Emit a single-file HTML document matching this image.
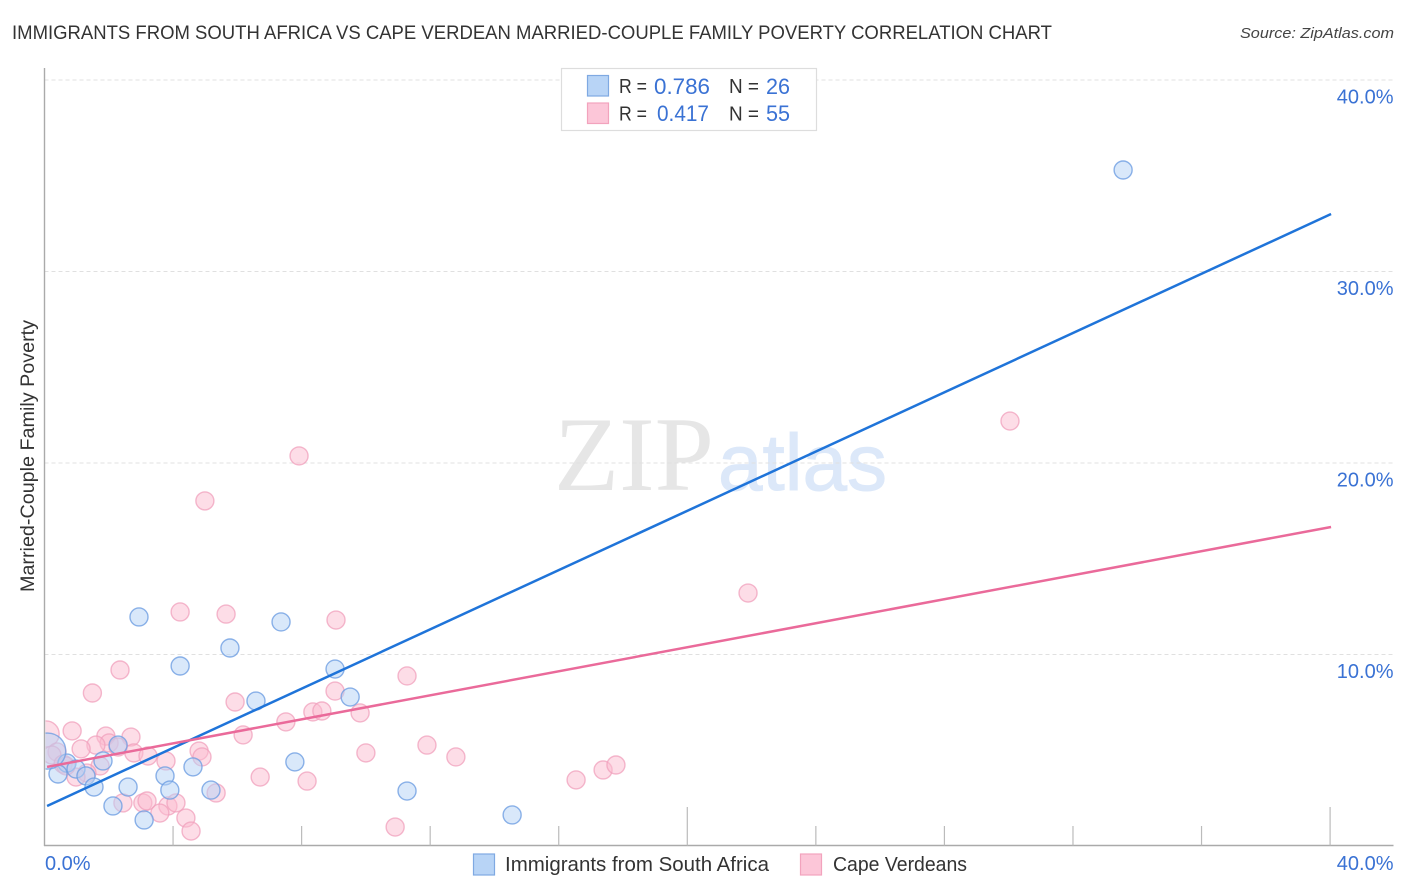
<!DOCTYPE html>
<html lang="en">
<head>
<meta charset="utf-8">
<title>Immigrants from South Africa vs Cape Verdean Married-Couple Family Poverty Correlation Chart</title>
<style>
html,body{margin:0;padding:0;background:#fff;}
svg{display:block;font-family:"Liberation Sans",sans-serif;}
</style>
</head>
<body>
<svg id="chart" xmlns="http://www.w3.org/2000/svg" width="1406" height="892" viewBox="0 0 1406 892">
  <rect x="0" y="0" width="1406" height="892" fill="#ffffff"/>
  <defs><clipPath id="plot-clip"><rect x="45.5" y="60" width="1350" height="785"/></clipPath></defs>
  <text x="12" y="39" font-size="19.5" fill="#333333" textLength="1040" lengthAdjust="spacingAndGlyphs">IMMIGRANTS FROM SOUTH AFRICA VS CAPE VERDEAN MARRIED-COUPLE FAMILY POVERTY CORRELATION CHART</text>
  <text x="1394" y="38" font-size="15" font-style="italic" fill="#444" text-anchor="end" textLength="154" lengthAdjust="spacingAndGlyphs">Source: ZipAtlas.com</text>
  <g>
    <text x="554" y="490" font-family="'Liberation Serif',serif" font-size="106" fill="#e6e6e6" textLength="160" lengthAdjust="spacingAndGlyphs">ZIP</text>
    <text x="718" y="490" font-size="80" fill="#dce8f9" stroke="#dce8f9" stroke-width="1" textLength="169" lengthAdjust="spacingAndGlyphs">atlas</text>
  </g>
  <g id="grid"></g>
  <g id="axes"></g>
  <g id="marks" clip-path="url(#plot-clip)"></g>
  <g id="trends"></g>
  <text transform="translate(34,456) rotate(-90)" font-size="19" fill="#333333" text-anchor="middle" textLength="272" lengthAdjust="spacingAndGlyphs">Married-Couple Family Poverty</text>

  <g>
    <rect x="561.5" y="68.5" width="255" height="62" fill="#ffffff" stroke="#dddddd" stroke-width="1.2"/>
    <rect x="587.5" y="75.5" width="21" height="20.5" fill="#b8d4f6" stroke="#7fa9e2" stroke-width="1.2"/>
    <rect x="587.5" y="103" width="21" height="20.5" fill="#fcc6d8" stroke="#f2a3bd" stroke-width="1.2"/>
    <text x="619" y="93" font-size="20" fill="#333333" textLength="28" lengthAdjust="spacingAndGlyphs">R =</text>
    <text x="654" y="94" font-size="22" fill="#3a72d4" textLength="56" lengthAdjust="spacingAndGlyphs">0.786</text>
    <text x="729" y="93" font-size="20" fill="#333333" textLength="30" lengthAdjust="spacingAndGlyphs">N =</text>
    <text x="766" y="94" font-size="22" fill="#3a72d4" textLength="24" lengthAdjust="spacingAndGlyphs">26</text>
    <text x="619" y="120.5" font-size="20" fill="#333333" textLength="28" lengthAdjust="spacingAndGlyphs">R =</text>
    <text x="657" y="121" font-size="22" fill="#3a72d4" textLength="52" lengthAdjust="spacingAndGlyphs">0.417</text>
    <text x="729" y="120.5" font-size="20" fill="#333333" textLength="30" lengthAdjust="spacingAndGlyphs">N =</text>
    <text x="766" y="121" font-size="22" fill="#3a72d4" textLength="24" lengthAdjust="spacingAndGlyphs">55</text>
  </g>

  <g>
    <rect x="473.5" y="854" width="21" height="21" fill="#b8d4f6" stroke="#7fa9e2" stroke-width="1.2"/>
    <text x="505" y="871" font-size="20" fill="#333333" textLength="264" lengthAdjust="spacingAndGlyphs">Immigrants from South Africa</text>
    <rect x="800.5" y="854" width="21" height="21" fill="#fcc6d8" stroke="#f2a3bd" stroke-width="1.2"/>
    <text x="833" y="871" font-size="20" fill="#333333" textLength="134" lengthAdjust="spacingAndGlyphs">Cape Verdeans</text>
  </g>
</svg>
<script>
const yTicks = [10, 20, 30, 40];
const yTickLabels = ["10.0%", "20.0%", "30.0%", "40.0%"];
const xTicks = [4, 8, 12, 16, 20, 24, 28, 32, 36, 40];
const xMajorTicks = [40];
const xMidTicks = [20];
const xEndTicks = [0, 40];
const xEndLabels = ["0.0%", "40.0%"];

const southAfricaX = [33.56,2.94,7.36,5.77,4.22,9.04,9.51,6.58,7.79,4.62,3.75,2.29,1.82,0.70,0.98,0.42,1.29,1.54,2.60,3.90,5.18,11.28,2.13,3.10,14.55,0.10];
const southAfricaY = [35.30,11.96,11.70,10.34,9.40,9.24,7.78,7.57,4.39,4.13,3.66,5.27,4.44,4.33,4.02,3.76,3.66,3.08,3.08,2.92,2.92,2.87,2.09,1.36,1.62,4.96];
const southAfricaWeight = [1,1,1,1,1,1,1,1,1,1,1,1,1,1,1,1,1,1,1,1,1,1,1,1,1,4];

const capeVerdeanX = [2.35,1.49,5.93,0.86,0.05,1.91,2.69,2.01,1.60,1.14,2.29,2.78,3.22,3.78,4.81,4.90,6.18,7.51,0.39,0.23,1.73,0.58,1.32,0.98,6.71,5.34,2.44,3.06,3.19,3.84,4.09,3.59,4.40,4.56,4.99,7.92,30.04,21.89,4.22,5.65,9.07,11.28,9.04,8.35,8.63,9.82,10.00,11.90,12.80,8.17,10.91,16.54,17.38,17.78,0.67];
const capeVerdeanY = [9.19,7.99,7.52,6.01,5.85,5.74,5.69,5.38,5.27,5.07,5.17,4.86,4.70,4.44,4.96,4.65,5.80,6.48,4.91,4.75,4.18,4.28,3.81,3.60,3.60,2.77,2.25,2.25,2.35,2.09,2.25,1.72,1.46,0.78,18.02,20.37,22.19,13.21,12.22,12.11,11.80,8.88,8.09,7.00,7.05,6.95,4.86,5.27,4.65,3.39,0.99,3.45,3.97,4.23,4.18];
const capeVerdeanWeight = [1,1,1,1,2.1,1,1,1,1,1,1,1,1,1,1,1,1,1,1,1,1,1,1,1,1,1,1,1,1,1,1,1,1,1,1,1,1,1,1,1,1,1,1,1,1,1,1,1,1,1,1,1,1,1,1];

const trendX = [0.08, 40.03];
const southAfricaTrend = [2.09, 33.0];
const capeVerdeanTrend = [4.13, 16.66];

const NS = "http://www.w3.org/2000/svg";
const xScale = v => 44.5 + v * 32.14;
const yScale = v => 846 - v * 19.15;
const radius = w => 9 * Math.sqrt(w);

const gridLayer = document.getElementById("grid");
const axesLayer = document.getElementById("axes");
const marksLayer = document.getElementById("marks");
const trendLayer = document.getElementById("trends");

function make(tag, attrs, parent, text) {
  const el = document.createElementNS(NS, tag);
  for (const k in attrs) el.setAttribute(k, attrs[k]);
  if (text !== undefined) el.textContent = text;
  parent.appendChild(el);
  return el;
}

yTicks.forEach((t, i) => {
  const line = make("line", {x1: 44.5, x2: 1393, y1: yScale(t), y2: yScale(t), stroke: "#e0e0e0", "stroke-width": 1, "stroke-dasharray": "4 3"}, gridLayer);
  
  
  const label = make("text", {x: 1393.5, y: yScale(t) + 23.5, "font-size": 20, fill: "#3a72d4", "text-anchor": "end"}, axesLayer, yTickLabels[i]);
  
  
});

const yAxis = make("line", {x1: 44.5, x2: 44.5, y1: 68, y2: 846, stroke: "#aaaaaa", "stroke-width": 1.4}, axesLayer);


const xAxis = make("line", {x1: 44, x2: 1393.5, y1: 845.5, y2: 845.5, stroke: "#aaaaaa", "stroke-width": 1.4}, axesLayer);



xTicks.forEach(t => {
  const top = (xMajorTicks.includes(t) || xMidTicks.includes(t)) ? 807 : 826;
  const tick = make("line", {x1: xScale(t), x2: xScale(t), y1: top, y2: 845.5, stroke: "#bbbbbb", "stroke-width": 1.2}, axesLayer);
  
  
});

xEndTicks.forEach((t, i) => {
  const anchor = i === 0 ? "start" : "end";
  const px = i === 0 ? 45 : 1393.5;
  const label = make("text", {x: px, y: 870, "font-size": 20, fill: "#3a72d4", "text-anchor": anchor}, axesLayer, xEndLabels[i]);
  
  
});

capeVerdeanX.forEach((v, i) => {
  const c = make("circle", {cx: xScale(v), cy: yScale(capeVerdeanY[i]), r: radius(capeVerdeanWeight[i]), fill: "#fbbcd0", "fill-opacity": 0.5, stroke: "#f0a0bc", "stroke-opacity": 0.75, "stroke-width": 1.4}, marksLayer);
  
  
});

southAfricaX.forEach((v, i) => {
  const c = make("circle", {cx: xScale(v), cy: yScale(southAfricaY[i]), r: radius(southAfricaWeight[i]), fill: "#b4d1f6", "fill-opacity": 0.5, stroke: "#6f9fe2", "stroke-opacity": 0.8, "stroke-width": 1.4}, marksLayer);
  
  
});

const blueTrendLine = make("line", {x1: xScale(trendX[0]), y1: yScale(southAfricaTrend[0]), x2: xScale(trendX[1]), y2: yScale(southAfricaTrend[1]), stroke: "#1f74d9", "stroke-width": 2.5}, trendLayer);


const pinkTrendLine = make("line", {x1: xScale(trendX[0]), y1: yScale(capeVerdeanTrend[0]), x2: xScale(trendX[1]), y2: yScale(capeVerdeanTrend[1]), stroke: "#ea6a9a", "stroke-width": 2.5}, trendLayer);


</script>
</body>
</html>
